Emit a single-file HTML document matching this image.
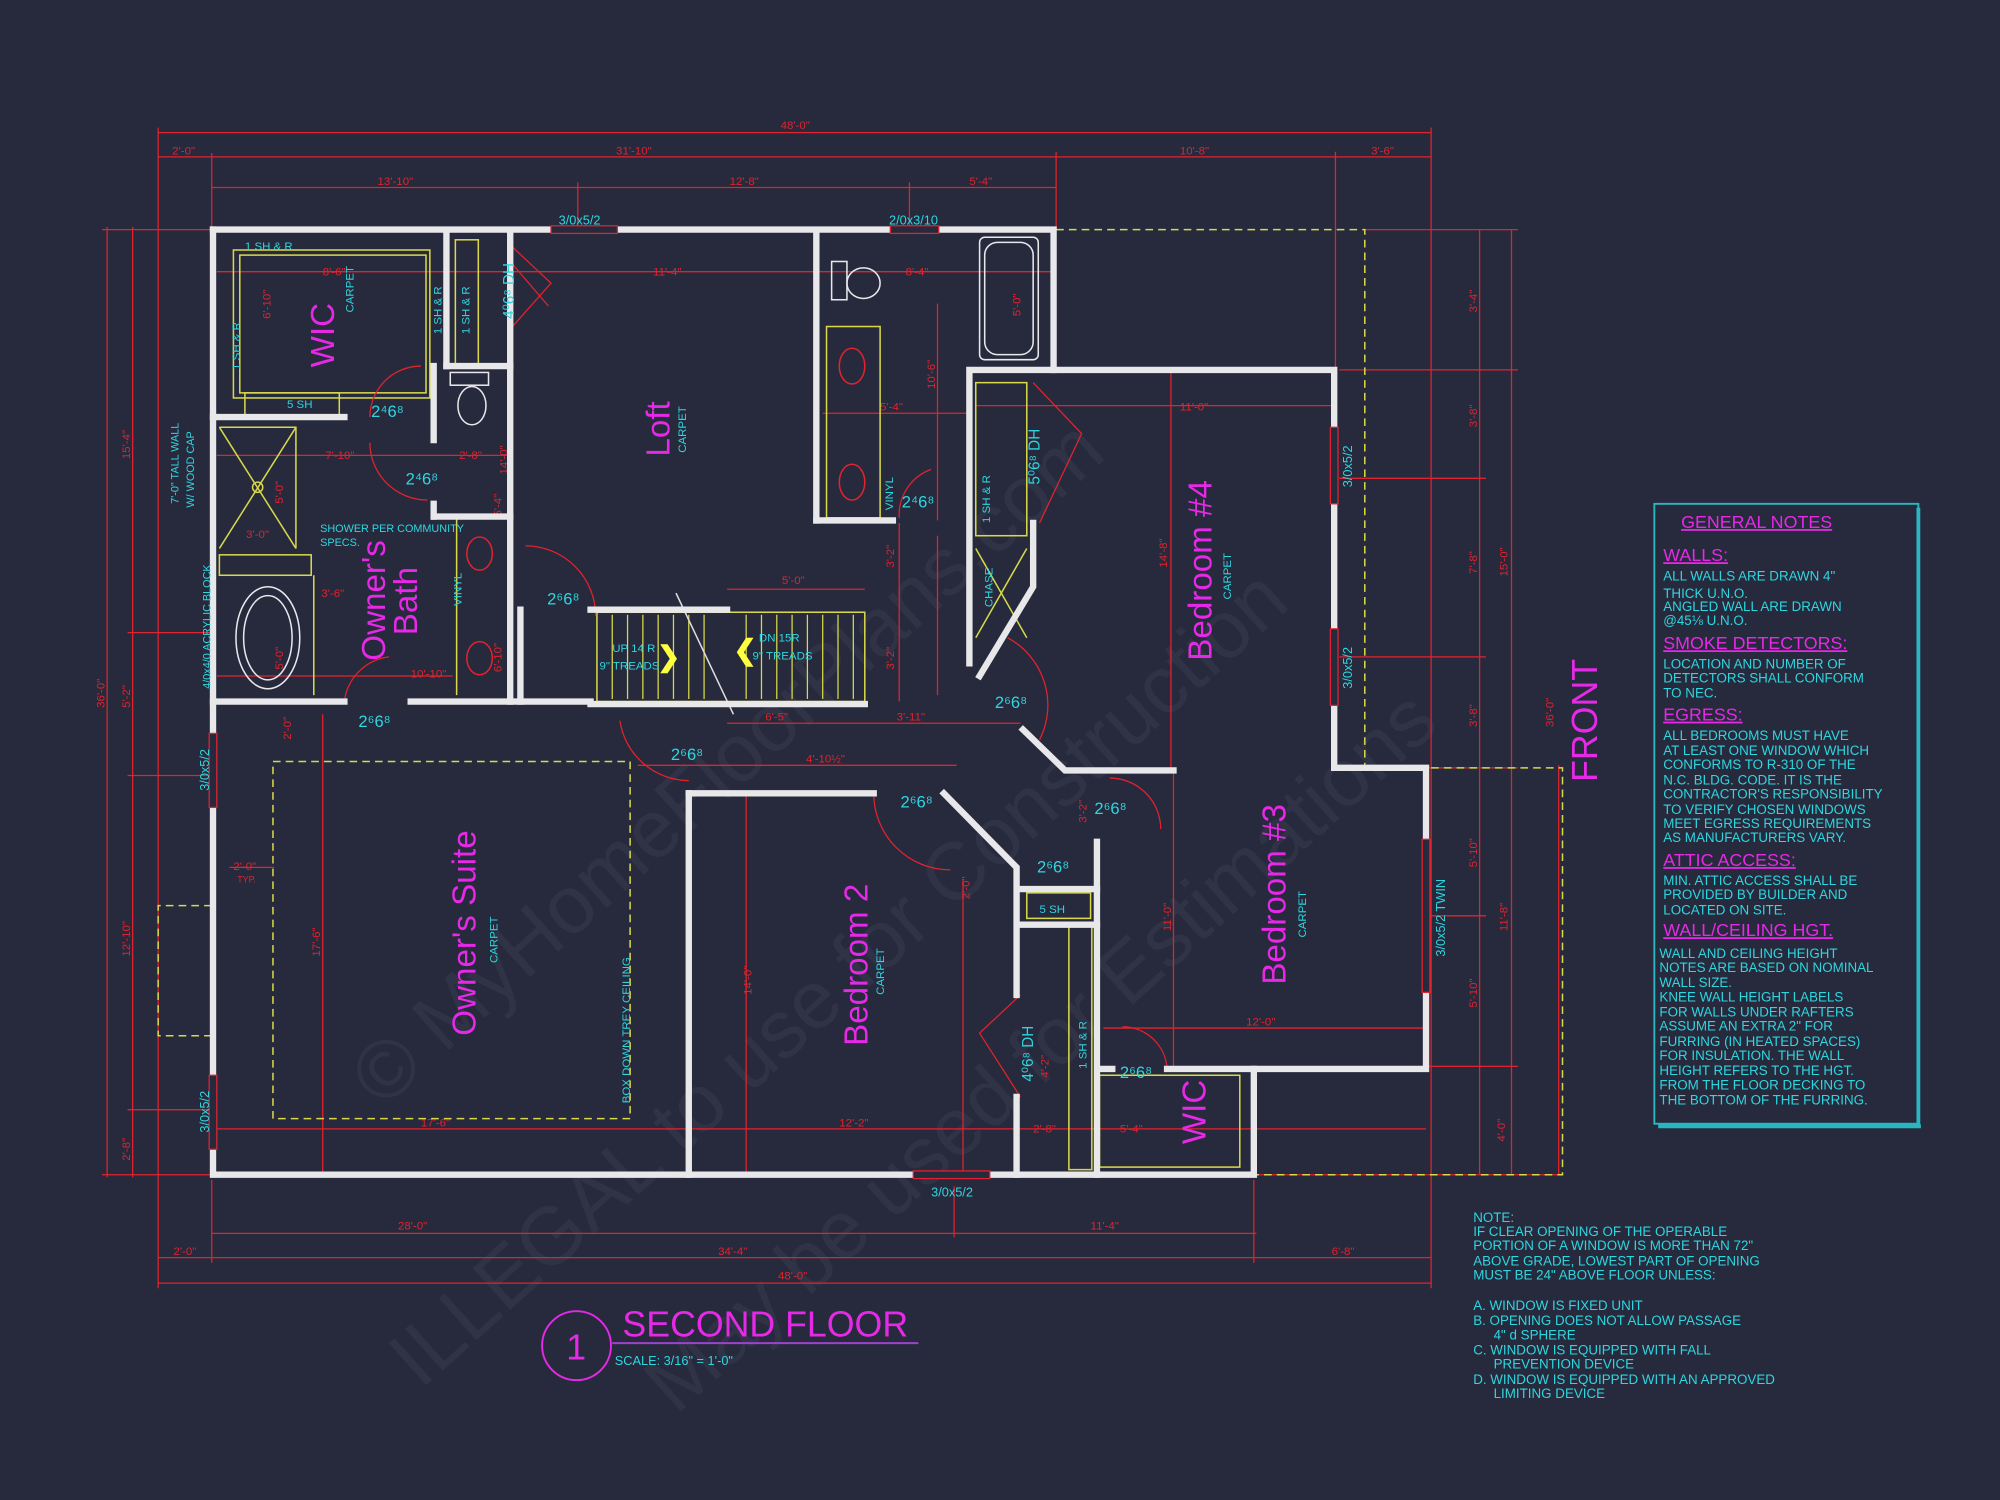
<!DOCTYPE html>
<html><head><meta charset="utf-8"><style>
html,body{margin:0;padding:0;background:#262a3c;}
svg{display:block}
text{font-family:"Liberation Sans",sans-serif}
.d{stroke:#e0232e;stroke-width:1;fill:none}
.dt{fill:#e0232e;font-size:9px}
.w{stroke:#e8e8ea;stroke-width:5;fill:none;stroke-linecap:square}
.y{stroke:#d8d84a;stroke-width:1.2;fill:none}
.yd{stroke:#d8d84a;stroke-width:1.2;fill:none;stroke-dasharray:6 4}
.c{fill:#2ed6e0;font-size:10px}
.m{fill:#e629e6}
.n{fill:#2ed6e0;font-size:10.5px}
</style></head><body>
<svg width="2000" height="1500" viewBox="0 0 1568 1176" xmlns="http://www.w3.org/2000/svg">
<rect width="1568" height="1176" fill="#262a3c"/>
<!-- watermark -->
<g fill="#8a8fa0" opacity="0.09" font-family="Liberation Serif" font-size="64">
<text transform="translate(330,1090) rotate(-42)">ILLEGAL to use for Construction</text>
<text transform="translate(300,870) rotate(-42)">© MyHomeFloorPlans.com</text>
<text transform="translate(530,1110) rotate(-42)">May be used for Estimations</text>
</g>
<!-- dimension lines top -->
<g class="d">
<line x1="124" y1="104" x2="1122" y2="104"/>
<line x1="124" y1="123" x2="1122" y2="123"/>
<line x1="166" y1="147" x2="828" y2="147"/>
<line x1="124" y1="100" x2="124" y2="1010"/>
<line x1="166" y1="120" x2="166" y2="180"/>
<line x1="453" y1="143" x2="453" y2="180"/>
<line x1="713" y1="143" x2="713" y2="180"/>
<line x1="828" y1="119" x2="828" y2="180"/>
<line x1="1047" y1="119" x2="1047" y2="290"/>
<line x1="1122" y1="100" x2="1122" y2="1010"/>
<!-- left -->
<line x1="84" y1="178" x2="84" y2="923"/>
<line x1="104" y1="178" x2="104" y2="923"/>
<line x1="80" y1="180" x2="166" y2="180"/>
<line x1="80" y1="921" x2="166" y2="921"/>
<line x1="100" y1="496" x2="166" y2="496"/>
<line x1="100" y1="608" x2="166" y2="608"/>
<line x1="100" y1="870" x2="166" y2="870"/>
<!-- bottom -->
<line x1="166" y1="967" x2="985" y2="967"/>
<line x1="124" y1="986" x2="1122" y2="986"/>
<line x1="124" y1="1006" x2="1122" y2="1006"/>
<line x1="166" y1="925" x2="166" y2="990"/>
<line x1="983" y1="925" x2="983" y2="990"/>
<line x1="748" y1="930" x2="748" y2="970"/>
<!-- right -->
<line x1="1160" y1="180" x2="1160" y2="921"/>
<line x1="1185" y1="180" x2="1185" y2="921"/>
<line x1="1222" y1="600" x2="1222" y2="921"/>
<line x1="1070" y1="180" x2="1190" y2="180"/>
<line x1="1050" y1="290" x2="1190" y2="290"/>
<line x1="1050" y1="602" x2="1190" y2="602"/>
<line x1="1120" y1="836" x2="1190" y2="836"/>
<line x1="1050" y1="375" x2="1165" y2="375"/>
<line x1="1050" y1="515" x2="1165" y2="515"/>
<line x1="1120" y1="718" x2="1165" y2="718"/>
<line x1="983" y1="921" x2="1222" y2="921"/>
<!-- interior dims -->
<line x1="170" y1="213" x2="640" y2="213"/>
<line x1="640" y1="213" x2="826" y2="213"/>
<line x1="170" y1="357" x2="400" y2="357"/>
<line x1="645" y1="324" x2="760" y2="324"/>
<line x1="765" y1="318" x2="1046" y2="318"/>
<line x1="400" y1="210" x2="400" y2="550"/>
<line x1="253" y1="560" x2="253" y2="921"/>
<line x1="170" y1="885" x2="1118" y2="885"/>
<line x1="585" y1="622" x2="585" y2="921"/>
<line x1="920" y1="602" x2="920" y2="836"/>
<line x1="865" y1="806" x2="1118" y2="806"/>
<line x1="918" y1="290" x2="918" y2="602"/>
<line x1="500" y1="600" x2="750" y2="600"/>
<line x1="570" y1="567" x2="800" y2="567"/>
<line x1="570" y1="462" x2="678" y2="462"/>
<line x1="705" y1="410" x2="705" y2="550"/>
<line x1="735" y1="420" x2="735" y2="545"/>
<line x1="755" y1="690" x2="755" y2="921"/>
<line x1="735" y1="238" x2="735" y2="408"/>
<line x1="170" y1="530" x2="355" y2="530"/>
<line x1="180" y1="680" x2="215" y2="680"/>
</g>
<g class="dt">
<text x="612" y="101">48'-0"</text>
<text x="135" y="121">2'-0"</text>
<text x="483" y="121">31'-10"</text>
<text x="925" y="121">10'-8"</text>
<text x="1075" y="121">3'-6"</text>
<text x="296" y="145">13'-10"</text>
<text x="572" y="145">12'-8"</text>
<text x="760" y="145">5'-4"</text>
<text x="253" y="216">8'-6"</text>
<text x="512" y="216">11'-4"</text>
<text x="710" y="216">8'-4"</text>
<text x="255" y="360">7'-10"</text>
<text x="360" y="360">2'-8"</text>
<text x="690" y="322">5'-4"</text>
<text x="925" y="322">11'-0"</text>
<text x="330" y="883">17'-6"</text>
<text x="658" y="883">12'-2"</text>
<text x="977" y="804">12'-0"</text>
<text x="613" y="458">5'-0"</text>
<text x="600" y="565">6'-5"</text>
<text x="703" y="565">3'-11"</text>
<text x="632" y="598">4'-10½"</text>
<text x="312" y="964">28'-0"</text>
<text x="855" y="964">11'-4"</text>
<text x="136" y="984">2'-0"</text>
<text x="563" y="984">34'-4"</text>
<text x="1044" y="984">6'-8"</text>
<text x="610" y="1003">48'-0"</text>
<text x="322" y="531">10'-10"</text>
<text x="252" y="468">3'-6"</text>
<text x="193" y="422">3'-0"</text>
<text x="183" y="682">2'-0"</text>
<text x="186" y="692" font-size="7">TYP.</text>
<text x="810" y="888">2'-8"</text>
<text x="878" y="888">5'-4"</text>
<g transform="rotate(-90)">
<text x="-555" y="82">36'-0"</text>
<text x="-360" y="102">15'-4"</text>
<text x="-555" y="102">5'-2"</text>
<text x="-750" y="102">12'-10"</text>
<text x="-910" y="102">2'-8"</text>
<text x="-372" y="398">14'-0"</text>
<text x="-750" y="251">17'-6"</text>
<text x="-780" y="589">14'-0"</text>
<text x="-445" y="915">14'-8"</text>
<text x="-730" y="918">11'-0"</text>
<text x="-305" y="733">10'-6"</text>
<text x="-445" y="701">3'-2"</text>
<text x="-525" y="701">3'-2"</text>
<text x="-245" y="1158">3'-4"</text>
<text x="-335" y="1158">3'-8"</text>
<text x="-450" y="1158">7'-8"</text>
<text x="-570" y="1158">3'-8"</text>
<text x="-680" y="1158">5'-10"</text>
<text x="-790" y="1158">5'-10"</text>
<text x="-895" y="1180">4'-0"</text>
<text x="-452" y="1182">15'-0"</text>
<text x="-730" y="1182">11'-8"</text>
<text x="-570" y="1218">36'-0"</text>
<text x="-845" y="822">4'-2"</text>
<text x="-705" y="760">2'-0"</text>
<text x="-645" y="852">3'-2"</text>
<text x="-405" y="393">5'-4"</text>
<text x="-527" y="393">6'-10"</text>
<text x="-250" y="212">6'-10"</text>
<text x="-395" y="222">5'-0"</text>
<text x="-525" y="222">5'-0"</text>
<text x="-248" y="800">5'-0"</text>
<text x="-580" y="228">2'-0"</text>
</g>
</g>
<!-- yellow dashed outlines -->
<g class="yd">
<polyline points="828,180 1070,180 1070,602"/>
<polyline points="1122,602 1225,602 1225,921 983,921"/>
<rect x="214" y="597" width="280" height="280"/>
<polyline points="166,710 124,710 124,812 166,812"/>
</g>
<!-- yellow shelving etc -->
<g class="y">
<rect x="188" y="200" width="146" height="108"/>
<rect x="183" y="196" width="154" height="116"/>
<rect x="192" y="308" width="74" height="18"/>
<rect x="357" y="188" width="18" height="98"/>
<line x1="172" y1="327" x2="228" y2="327"/>
<polyline points="172,335 232,335 232,430"/>
<line x1="172" y1="335" x2="232" y2="430"/><line x1="232" y1="335" x2="172" y2="430"/>
<circle cx="202" cy="382" r="4"/>
<rect x="172" y="435" width="72" height="16"/>
<line x1="246" y1="451" x2="246" y2="545"/>
<line x1="358" y1="405" x2="358" y2="545"/>
<line x1="358" y1="405" x2="395" y2="405"/>
<rect x="648" y="256" width="42" height="150"/>
<rect x="765" y="300" width="40" height="120"/>
<line x1="765" y1="430" x2="805" y2="500"/><line x1="805" y1="430" x2="765" y2="500"/>
<rect x="805" y="700" width="50" height="20"/>
<rect x="838" y="725" width="18" height="192"/>
<rect x="862" y="843" width="110" height="72"/>
<rect x="468" y="480" width="210" height="70"/>
<g stroke-width="1">
<line x1="480" y1="482" x2="480" y2="548"/><line x1="492" y1="482" x2="492" y2="548"/><line x1="504" y1="482" x2="504" y2="548"/><line x1="516" y1="482" x2="516" y2="548"/><line x1="528" y1="482" x2="528" y2="548"/><line x1="540" y1="482" x2="540" y2="548"/><line x1="552" y1="482" x2="552" y2="548"/>
<line x1="585" y1="482" x2="585" y2="548"/><line x1="597" y1="482" x2="597" y2="548"/><line x1="609" y1="482" x2="609" y2="548"/><line x1="621" y1="482" x2="621" y2="548"/><line x1="633" y1="482" x2="633" y2="548"/><line x1="645" y1="482" x2="645" y2="548"/><line x1="657" y1="482" x2="657" y2="548"/><line x1="669" y1="482" x2="669" y2="548"/>
</g>
<line x1="530" y1="465" x2="575" y2="560" stroke="#ddd"/>
</g>
<text x="515" y="522" fill="#ffff40" font-size="22" font-weight="bold">❯</text>
<text x="575" y="517" fill="#ffff40" font-size="22" font-weight="bold">❮</text>
<!-- door swings -->
<g class="d" stroke-width="1">
<path d="M330,287 A40,40 0 0 0 290,327"/>
<path d="M290,347 A45,45 0 0 0 335,392"/>
<path d="M412,428 A55,55 0 0 1 467,483"/>
<path d="M730,368 A38,38 0 0 0 705,406"/>
<path d="M270,550 A40,40 0 0 1 305,515"/>
<path d="M486,565 A55,55 0 0 0 540,612"/>
<path d="M685,622 A60,60 0 0 0 745,682"/>
<path d="M790,500 A60,60 0 0 1 815,580"/>
<path d="M870,610 A40,40 0 0 1 910,650"/>
<path d="M880,805 A35,35 0 0 1 915,838"/>
<path d="M400,192 L432,222 L400,258 M400,205 L430,240"/>
<path d="M810,300 L848,340 L815,410"/>
<path d="M800,780 L768,810 L800,860"/>
</g>
<!-- walls -->
<g class="w">
<polyline points="167,180 430,180"/>
<polyline points="485,180 697,180"/>
<polyline points="737,180 826,180 826,290"/>
<polyline points="167,180 167,921 715,921"/>
<polyline points="778,921 983,921 983,838 1118,838 1118,602 1046,602 1046,290 760,290 760,520"/>
<line x1="167" y1="327" x2="270" y2="327"/>
<line x1="350" y1="182" x2="350" y2="287"/>
<line x1="350" y1="287" x2="400" y2="287"/>
<line x1="400" y1="182" x2="400" y2="550"/>
<line x1="340" y1="287" x2="340" y2="345"/>
<line x1="340" y1="395" x2="340" y2="405"/>
<line x1="340" y1="405" x2="400" y2="405"/>
<line x1="167" y1="550" x2="270" y2="550"/>
<line x1="322" y1="550" x2="463" y2="550"/>
<line x1="463" y1="552" x2="678" y2="552"/>
<line x1="463" y1="478" x2="570" y2="478"/>
<line x1="408" y1="478" x2="408" y2="550"/>
<line x1="640" y1="182" x2="640" y2="408"/>
<line x1="640" y1="408" x2="700" y2="408"/>
<polyline points="810,410 810,460 768,530"/>
<polyline points="802,572 835,604 920,604"/>
<line x1="540" y1="622" x2="540" y2="921"/>
<line x1="540" y1="622" x2="685" y2="622"/>
<polyline points="740,622 797,680 797,780"/>
<line x1="797" y1="860" x2="797" y2="921"/>
<polyline points="860,660 860,921"/>
<line x1="800" y1="725" x2="860" y2="725"/>
<line x1="800" y1="697" x2="860" y2="697"/>
<line x1="915" y1="838" x2="983" y2="838"/>
<line x1="862" y1="838" x2="872" y2="838"/>
</g>
<!-- windows -->
<g fill="#262a3c" stroke="#e0232e" stroke-width="1">
<rect x="432" y="177" width="52" height="6"/>
<rect x="698" y="177" width="38" height="6"/>
<rect x="164" y="575" width="6" height="58"/>
<rect x="164" y="843" width="6" height="58"/>
<rect x="716" y="918" width="60" height="6"/>
<rect x="1043" y="335" width="6" height="60"/>
<rect x="1043" y="493" width="6" height="60"/>
<rect x="1115" y="658" width="6" height="120"/>
</g>
<!-- fixtures -->
<g stroke="#e8e8ea" fill="none" stroke-width="1.2">
<rect x="768" y="186" width="46" height="96" rx="4"/>
<rect x="772" y="190" width="38" height="88" rx="10"/>
<rect x="652" y="205" width="12" height="30"/>
<ellipse cx="677" cy="222" rx="13" ry="12"/>
<rect x="353" y="292" width="30" height="10"/>
<ellipse cx="370" cy="318" rx="11" ry="15"/>
<ellipse cx="210" cy="500" rx="25" ry="40"/>
<ellipse cx="210" cy="500" rx="19" ry="33"/>
<ellipse cx="668" cy="287" rx="10" ry="14" stroke="#e0232e"/>
<ellipse cx="668" cy="378" rx="10" ry="14" stroke="#e0232e"/>
<ellipse cx="376" cy="434" rx="10" ry="13" stroke="#e0232e"/>
<ellipse cx="376" cy="516" rx="10" ry="13" stroke="#e0232e"/>
</g>
<!-- cyan labels -->
<g class="c">
<text x="438" y="176">3/0x5/2</text>
<text x="697" y="176">2/0x3/10</text>
<text x="192" y="196" font-size="9">1 SH &amp; R</text>
<text x="225" y="320" font-size="9">5 SH</text>
<text x="291" y="327" font-size="13">2⁴6⁸</text>
<text x="318" y="380" font-size="13">2⁴6⁸</text>
<text x="429" y="474" font-size="13">2⁶6⁸</text>
<text x="707" y="398" font-size="13">2⁴6⁸</text>
<text x="281" y="570" font-size="13">2⁶6⁸</text>
<text x="526" y="596" font-size="13">2⁶6⁸</text>
<text x="706" y="633" font-size="13">2⁶6⁸</text>
<text x="780" y="555" font-size="13">2⁶6⁸</text>
<text x="858" y="638" font-size="13">2⁶6⁸</text>
<text x="813" y="684" font-size="13">2⁶6⁸</text>
<text x="878" y="845" font-size="13">2⁶6⁸</text>
<text x="815" y="716" font-size="9">5 SH</text>
<text x="730" y="938">3/0x5/2</text>
<text x="251" y="417" font-size="8.5">SHOWER PER COMMUNITY</text>
<text x="251" y="428" font-size="8.5">SPECS.</text>
<text x="480" y="511" font-size="9">UP 14 R</text>
<text x="470" y="525" font-size="9">9" TREADS</text>
<text x="595" y="503" font-size="9">DN 15R</text>
<text x="590" y="517" font-size="9">9" TREADS</text>
<g transform="rotate(-90)">
<text x="-290" y="188" font-size="9">1 SH &amp; R</text>
<text x="-262" y="346" font-size="9">1 SH &amp; R</text>
<text x="-262" y="368" font-size="9">1 SH &amp; R</text>
<text x="-250" y="403" font-size="12">4⁰6⁸ DH</text>
<text x="-245" y="277" font-size="9">CARPET</text>
<text x="-355" y="538" font-size="9">CARPET</text>
<text x="-475" y="362" font-size="9">VINYL</text>
<text x="-400" y="700" font-size="9">VINYL</text>
<text x="-410" y="776" font-size="9">1 SH &amp; R</text>
<text x="-380" y="815" font-size="12">5⁰6⁸ DH</text>
<text x="-476" y="778" font-size="9">CHASE</text>
<text x="-470" y="965" font-size="9">CARPET</text>
<text x="-735" y="1024" font-size="9">CARPET</text>
<text x="-780" y="693" font-size="9">CARPET</text>
<text x="-755" y="390" font-size="9">CARPET</text>
<text x="-865" y="494" font-size="9">BOX DOWN TREY CEILING</text>
<text x="-848" y="810" font-size="12">4⁰6⁸ DH</text>
<text x="-838" y="852" font-size="9">1 SH &amp; R</text>
<text x="-620" y="164">3/0x5/2</text>
<text x="-888" y="164">3/0x5/2</text>
<text x="-382" y="1060">3/0x5/2</text>
<text x="-540" y="1060">3/0x5/2</text>
<text x="-750" y="1133">3/0x5/2 TWIN</text>
<text x="-540" y="165" font-size="8.5">4/0x4/0 ACRYLIC BLOCK</text>
<text x="-395" y="140" font-size="8.5">7'-0" TALL WALL</text>
<text x="-398" y="152" font-size="8.5">W/ WOOD CAP</text>
</g>
</g>
<!-- magenta room labels -->
<g class="m">
<g transform="rotate(-90)">
<text x="-288" y="262" font-size="26">WIC</text>
<text x="-358" y="525" font-size="26">Loft</text>
<text x="-518" y="302" font-size="26">Owner's</text>
<text x="-498" y="327" font-size="26">Bath</text>
<text x="-812" y="373" font-size="26">Owner's Suite</text>
<text x="-820" y="680" font-size="26">Bedroom 2</text>
<text x="-518" y="950" font-size="26">Bedroom #4</text>
<text x="-772" y="1008" font-size="26">Bedroom #3</text>
<text x="-897" y="945" font-size="26">WIC</text>
<text x="-613" y="1252" font-size="28">FRONT</text>
</g>
</g>
<!-- title -->
<circle cx="452" cy="1055" r="27" fill="none" stroke="#e629e6" stroke-width="1.5"/>
<text x="444" y="1066" fill="#e629e6" font-size="28">1</text>
<text x="488" y="1048" fill="#e629e6" font-size="28">SECOND FLOOR</text>
<line x1="480" y1="1053" x2="720" y2="1053" stroke="#a040d0" stroke-width="1.5"/>
<text x="482" y="1070" class="c" font-size="12">SCALE: 3/16" = 1'-0"</text>
<!-- general notes -->
<rect x="1297" y="395" width="207" height="486" fill="none" stroke="#2ab6c0" stroke-width="1.5"/>
<line x1="1504" y1="398" x2="1504" y2="884" stroke="#2ab6c0" stroke-width="3"/>
<line x1="1300" y1="883" x2="1506" y2="883" stroke="#2ab6c0" stroke-width="3"/>
<g fill="#e629e6" font-size="14" text-decoration="underline">
<text x="1318" y="414">GENERAL NOTES</text>
<text x="1304" y="440">WALLS:</text>
<text x="1304" y="509">SMOKE DETECTORS:</text>
<text x="1304" y="565">EGRESS:</text>
<text x="1304" y="679">ATTIC ACCESS:</text>
<text x="1304" y="734">WALL/CEILING HGT.</text>
</g>
<g class="n">
<text x="1304" y="455">ALL WALLS ARE DRAWN 4"</text>
<text x="1304" y="469">THICK U.N.O.</text>
<text x="1304" y="479">ANGLED WALL ARE DRAWN</text>
<text x="1304" y="490">@45⅛ U.N.O.</text>
<text x="1304" y="524">LOCATION AND NUMBER OF</text>
<text x="1304" y="535">DETECTORS SHALL CONFORM</text>
<text x="1304" y="547">TO NEC.</text>
<text x="1304" y="580">ALL BEDROOMS MUST HAVE</text>
<text x="1304" y="592">AT LEAST ONE WINDOW WHICH</text>
<text x="1304" y="603">CONFORMS TO R-310 OF THE</text>
<text x="1304" y="615">N.C. BLDG. CODE. IT IS THE</text>
<text x="1304" y="626">CONTRACTOR'S RESPONSIBILITY</text>
<text x="1304" y="638">TO VERIFY CHOSEN WINDOWS</text>
<text x="1304" y="649">MEET EGRESS REQUIREMENTS</text>
<text x="1304" y="660">AS MANUFACTURERS VARY.</text>
<text x="1304" y="694">MIN. ATTIC ACCESS SHALL BE</text>
<text x="1304" y="705">PROVIDED BY BUILDER AND</text>
<text x="1304" y="717">LOCATED ON SITE.</text>
<text x="1301" y="751">WALL AND CEILING HEIGHT</text>
<text x="1301" y="762">NOTES ARE BASED ON NOMINAL</text>
<text x="1301" y="774">WALL SIZE.</text>
<text x="1301" y="785">KNEE WALL HEIGHT LABELS</text>
<text x="1301" y="797">FOR WALLS UNDER RAFTERS</text>
<text x="1301" y="808">ASSUME AN EXTRA 2" FOR</text>
<text x="1301" y="820">FURRING (IN HEATED SPACES)</text>
<text x="1301" y="831">FOR INSULATION. THE WALL</text>
<text x="1301" y="843">HEIGHT REFERS TO THE HGT.</text>
<text x="1301" y="854">FROM THE FLOOR DECKING TO</text>
<text x="1301" y="866">THE BOTTOM OF THE FURRING.</text>
</g>
<g class="n" font-size="9">
<text x="1155" y="958">NOTE:</text>
<text x="1155" y="969">IF CLEAR OPENING OF THE OPERABLE</text>
<text x="1155" y="980">PORTION OF A WINDOW IS MORE THAN 72"</text>
<text x="1155" y="992">ABOVE GRADE, LOWEST PART OF OPENING</text>
<text x="1155" y="1003">MUST BE 24" ABOVE FLOOR UNLESS:</text>
<text x="1155" y="1027">A.  WINDOW IS FIXED UNIT</text>
<text x="1155" y="1039">B.  OPENING DOES NOT ALLOW PASSAGE</text>
<text x="1171" y="1050">4" d SPHERE</text>
<text x="1155" y="1062">C.  WINDOW IS EQUIPPED WITH FALL</text>
<text x="1171" y="1073">PREVENTION DEVICE</text>
<text x="1155" y="1085">D.  WINDOW IS EQUIPPED WITH AN APPROVED</text>
<text x="1171" y="1096">LIMITING DEVICE</text>
</g>
</svg>
</body></html>
